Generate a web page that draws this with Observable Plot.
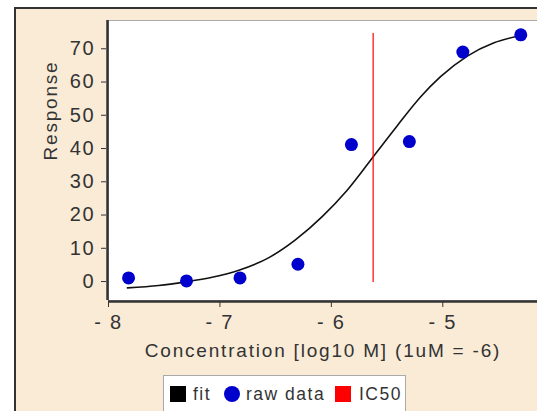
<!DOCTYPE html>
<html>
<head>
<meta charset="utf-8">
<script src="https://cdn.jsdelivr.net/npm/d3@7"></script>
<script src="https://cdn.jsdelivr.net/npm/@observablehq/plot@0.6"></script>
<style>
  html, body { margin: 0; padding: 0; background: #fff; }
  #wrap { position: relative; width: 537px; height: 411px; overflow: hidden; background: #fff;
          font-family: "Liberation Sans", Arial, sans-serif; color: #333; }
  #outer { position: absolute; left: 14px; top: 7px; width: 600px; height: 500px;
           background: #faebd7; border-left: 2px solid #333; border-top: 2px solid #333; }
  #chart { position: absolute; left: 0; top: 0; }
  #chart svg text { letter-spacing: 1.8px; }
  #legend { position: absolute; left: 163px; top: 375px; width: 243px; height: 60px;
            background: #fff; border: 1px solid #aaa; box-sizing: border-box; }
  .li { position: absolute; top: 8px; font-size: 17.5px; letter-spacing: 1.5px; line-height: 20px; color: #333; }
  .sw { position: absolute; top: 10px; width: 16px; height: 16px; }
</style>
</head>
<body>
<div id="wrap">
  <div id="outer"></div>
  <div id="chart"></div>
  <div id="legend"></div>
</div>
<script>
// Raw data points
const concentration = [-7.82, -7.30, -6.82, -6.30, -5.82, -5.30, -4.82, -4.30];
const response = [1.1, 0.2, 1.1, 5.2, 41.2, 42.1, 69.0, 74.2];

// Fit curve
const fitX = [-7.83, -7.55, -7.31, -7.07, -6.83, -6.56, -6.32, -6.08, -5.86, -5.60, -5.41, -5.20, -5.02, -4.78, -4.54, -4.30];
const fitY = [-1.9, -1.2, -0.1, 1.3, 3.4, 7.2, 12.6, 19.6, 27.4, 38.6, 46.8, 55.5, 61.6, 67.8, 71.8, 74.0];

// IC50 marker
const ic50 = [-5.625];
const ic50Span = [-0.3, 74.6];

// Axes
const xTicks = [-8, -7, -6, -5];
const yTicks = [0, 10, 20, 30, 40, 50, 60, 70];
const xDomain = [-8, -4.15];
const yDomain = [-5.7, 78.5];
const xTitle = "Concentration [log10 M] (1uM = -6)";
const yTitle = "Response";

// Legend
const legendItems = [
  {label: "fit", color: "#000000", shape: "square"},
  {label: "raw data", color: "#0000cc", shape: "circle"},
  {label: "IC50", color: "#ff0000", shape: "square"}
];

const raw = concentration.map((c, i) => ({x: c, y: response[i]}));
const fit = fitX.map((c, i) => ({x: c, y: fitY[i]}));

const plot = Plot.plot({
  width: 537,
  height: 411,
  marginLeft: 108,
  marginTop: 20,
  marginRight: 0,
  marginBottom: 111,
  style: {background: "transparent", fontFamily: "'Liberation Sans', Arial, sans-serif", color: "#333", overflow: "visible"},
  x: {domain: xDomain},
  y: {domain: yDomain},
  marks: [
    Plot.frame({fill: "white", stroke: "#aaa"}),
    Plot.ruleX([xDomain[0]], {stroke: "#333", strokeWidth: 2.5, dx: -1}),
    Plot.ruleY([yDomain[0]], {stroke: "#333", strokeWidth: 2.5, dy: 1}),
    Plot.axisY({ticks: yTicks, tickSize: 5, tickPadding: 6, dx: -2, label: null, fontSize: 20, stroke: "#333", fill: "#333"}),
    Plot.axisX({ticks: xTicks, tickFormat: d => "- " + Math.abs(d), tickSize: 5, tickPadding: 7, dy: 2, label: null, fontSize: 20, stroke: "#333", fill: "#333"}),
    Plot.text([yTitle], {frameAnchor: "left", rotate: -90, dx: -58, lineAnchor: "middle", fontSize: 19, fill: "#333"}),
    Plot.text([xTitle], {frameAnchor: "bottom", dy: 50, lineAnchor: "middle", fontSize: 19, fill: "#333"}),
    Plot.line(fit, {x: "x", y: "y", curve: "monotone-x", stroke: "#111", strokeWidth: 1.6}),
    Plot.ruleX(ic50, {y1: ic50Span[0], y2: ic50Span[1], stroke: "#ff0000", strokeWidth: 1.2}),
    Plot.dot(raw, {x: "x", y: "y", r: 6.5, fill: "#0000cc", stroke: "none"})
  ]
});
document.getElementById("chart").appendChild(plot);

// Legend (HTML, below the plot area)
const lg = document.getElementById("legend");
const swLeft = [6, 60, 171];
const txtLeft = [29, 82, 195];
legendItems.forEach((d, i) => {
  const sw = document.createElement("div");
  sw.className = "sw";
  sw.style.left = swLeft[i] + "px";
  sw.style.background = d.color;
  if (d.shape === "circle") { sw.style.borderRadius = "50%"; }
  lg.appendChild(sw);
  const t = document.createElement("div");
  t.className = "li";
  t.style.left = txtLeft[i] + "px";
  t.textContent = d.label;
  lg.appendChild(t);
});
</script>
</body>
</html>
